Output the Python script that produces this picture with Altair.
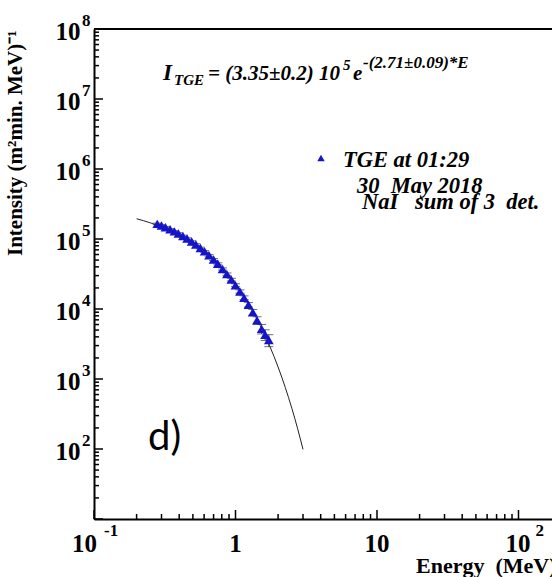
import altair as alt
import pandas as pd

# ---------------- data ----------------
energy = [0.28, 0.30, 0.32, 0.345, 0.37, 0.395, 0.425, 0.455, 0.49, 0.525,
          0.565, 0.605, 0.65, 0.70, 0.75, 0.81, 0.87, 0.935, 1.0, 1.075,
          1.15, 1.235, 1.325, 1.42, 1.53, 1.62, 1.72]
intensity = [164500, 156000, 147500, 137500, 128500, 120000, 110500, 101500, 92000, 83500,
             74500, 66500, 58500, 51000, 44200, 37300, 31500, 26300, 21900, 17800,
             14500, 11500, 9000, 6900, 5200, 4300, 3600]
err = [4100, 3900, 3700, 3400, 3200, 3000, 2800, 2600, 2400, 2200,
       2000, 1900, 1700, 1600, 1450, 1350, 1250, 1150, 1050, 950,
       900, 850, 850, 850, 800, 750, 700]

fit_energy = [0.2, 0.25, 0.3, 0.4, 0.5, 0.6, 0.7, 0.8, 0.9, 1.0, 1.1, 1.25, 1.5,
              1.75, 2.0, 2.25, 2.5, 2.75, 3.0]
fit_intensity = [194800, 170100, 148600, 113300, 86400, 65900, 50250, 38300, 29240,
                 22290, 17000, 11320, 5750, 2920, 1483, 753, 383, 194.3, 98.7]

x_major = [0.1, 1, 10, 100]
x_minor = [0.2, 0.3, 0.4, 0.5, 0.6, 0.7, 0.8, 0.9, 2, 3, 4, 5, 6, 7, 8, 9,
           20, 30, 40, 50, 60, 70, 80, 90]
y_major = [1e1, 1e2, 1e3, 1e4, 1e5, 1e6, 1e7, 1e8]
y_minor = [m * 10 ** k for k in range(1, 8) for m in range(2, 10)]

# tick labels: base + exponent
y_label_values = [1e2, 1e3, 1e4, 1e5, 1e6, 1e7, 1e8]
y_label_exps = ["2", "3", "4", "5", "6", "7", "8"]
x_label_values = [0.1, 1, 10, 100]
x_label_bases = ["10", "1", "10", "10"]
x_label_exps = ["-1", "", "", "2"]

# ---------------- layout ----------------
W, H = 458, 490
SERIF = "Liberation Serif"
BLUE = "#1414c8"
LABEL_SIZE = 25
EXP_SIZE = 17

xscale = alt.Scale(type="log", domain=[0.1, 172.5], nice=False)
yscale = alt.Scale(type="log", domain=[10, 1e8], nice=False)

xaxis = alt.Axis(
    values=x_major, labels=False,
    grid=False, ticks=False, tickSize=0,
    domainColor="black", domainWidth=2,
    title="Energy\u00a0\u00a0(MeV)", titleFont=SERIF, titleFontSize=22,
    titleFontWeight="bold", titleColor="black",
    titleX=462, titleY=53, titleAlign="right", titleBaseline="alphabetic", titleAngle=0,
)
yaxis = alt.Axis(
    values=y_label_values,
    labelExpr="'10'",
    grid=False, ticks=False, tickSize=0,
    domainColor="black", domainWidth=2,
    labelFont=SERIF, labelFontSize=LABEL_SIZE, labelFontWeight="bold", labelColor="black",
    labelPadding=14, labelOffset=2, labelOverlap=False,
    title="Intensity (m²min. MeV)⁻¹", titleFont=SERIF, titleFontSize=21,
    titleFontWeight="bold", titleColor="black",
    titleX=-73, titleY=1, titleAlign="right", titleBaseline="alphabetic", titleAngle=270,
)


def X(f):
    return alt.X(f, type="quantitative", scale=xscale, axis=xaxis)


def Y(f):
    return alt.Y(f, type="quantitative", scale=yscale, axis=yaxis)


pts = pd.DataFrame({"E": energy, "I": intensity, "err": err})
pts["lo"] = pts["I"] - pts["err"]
pts["hi"] = pts["I"] + pts["err"]
fit = pd.DataFrame({"E": fit_energy, "I": fit_intensity})

fit_line = alt.Chart(fit).mark_line(color="#222222", strokeWidth=1, interpolate="monotone").encode(
    x=X("E"), y=Y("I"))

err_rule = alt.Chart(pts).mark_rule(color="#333333", strokeWidth=1).encode(
    x=X("E"), y=Y("lo"), y2="hi")
cap_lo = alt.Chart(pts).mark_tick(orient="horizontal", size=9, thickness=1, color="#333333").encode(
    x=X("E"), y=Y("lo"))
cap_hi = alt.Chart(pts).mark_tick(orient="horizontal", size=9, thickness=1, color="#333333").encode(
    x=X("E"), y=Y("hi"))

points = alt.Chart(pts).mark_point(shape="triangle-up", filled=True, size=95,
                                   color=BLUE, opacity=1).encode(x=X("E"), y=Y("I"))

# inward axis ticks
xt_major = alt.Chart(pd.DataFrame({"v": x_major})).mark_rule(color="black", strokeWidth=1.5).encode(
    x=X("v"), y=alt.value(H), y2=alt.value(H - 9))
xt_minor = alt.Chart(pd.DataFrame({"v": x_minor})).mark_rule(color="black", strokeWidth=1.5).encode(
    x=X("v"), y=alt.value(H), y2=alt.value(H - 5))
yt_major = alt.Chart(pd.DataFrame({"v": y_major})).mark_rule(color="black", strokeWidth=1.5).encode(
    y=Y("v"), x=alt.value(0), x2=alt.value(9))
yt_minor = alt.Chart(pd.DataFrame({"v": y_minor})).mark_rule(color="black", strokeWidth=1.5).encode(
    y=Y("v"), x=alt.value(0), x2=alt.value(5))
top_frame = alt.Chart(pd.DataFrame({"v": [1e8]})).mark_rule(color="black", strokeWidth=2).encode(
    y=Y("v"), x=alt.value(0), x2=alt.value(W + 5))

# y-axis label exponents
y_exp = alt.Chart(pd.DataFrame({"v": y_label_values, "t": y_label_exps})).mark_text(
    font=SERIF, fontSize=EXP_SIZE, fontWeight="bold", color="black",
    align="left", baseline="alphabetic", dx=-12, dy=-3,
).encode(x=alt.value(0), y=Y("v"), text="t:N")

# x-axis labels (base "10"/"1" and exponent), one small layer per label
x_label_layout = [  # (base align, base dx, exponent dx)
    ("right", 3, 10),
    ("center", 0, 0),
    ("center", 0, 0),
    ("right", 12, 17),
]
x_label_layers = []
for v, base, ex, (al, bdx, edx) in zip(x_label_values, x_label_bases, x_label_exps, x_label_layout):
    df = pd.DataFrame({"v": [v], "b": [base], "e": [ex]})
    x_label_layers.append(alt.Chart(df).mark_text(
        font=SERIF, fontSize=LABEL_SIZE, fontWeight="bold", color="black",
        align=al, baseline="alphabetic", dx=bdx, dy=33,
    ).encode(x=X("v"), y=alt.value(H), text="b:N"))
    if ex:
        x_label_layers.append(alt.Chart(df).mark_text(
            font=SERIF, fontSize=EXP_SIZE, fontWeight="bold", color="black",
            align="left", baseline="alphabetic", dx=edx, dy=17,
        ).encode(x=X("v"), y=alt.value(H), text="e:N"))


def label(e, i, txt, size, dx=0, dy=0, style="italic", font=SERIF, weight="bold"):
    df = pd.DataFrame({"E": [e], "I": [i], "t": [txt]})
    return alt.Chart(df).mark_text(
        font=font, fontSize=size, fontWeight=weight, fontStyle=style, color="black",
        align="left", baseline="alphabetic", dx=dx, dy=dy,
    ).encode(x=X("E"), y=Y("I"), text="t:N")


FE, FI = 0.3073, 1.868e7  # formula anchor
formula = [
    label(FE, FI, "I", 23),
    label(FE, FI, "TGE", 15, dx=11, dy=5),
    label(FE, FI, "= (3.35±0.2) 10", 21, dx=45),
    label(FE, FI, "5", 15, dx=180, dy=-10),
    label(FE, FI, "e", 21, dx=190),
    label(FE, FI, "-(2.71±0.09)*E", 17, dx=200, dy=-12),
]

legend_marker = alt.Chart(pd.DataFrame({"E": [4.02], "I": [1.436e6]})).mark_point(
    shape="triangle-up", filled=True, size=55, color=BLUE, opacity=1).encode(x=X("E"), y=Y("I"))
legend_texts = [
    label(5.75, 1.068e6, "TGE at 01:29", 22.5),
    label(7.22, 4.54e5, "30\u00a0\u00a0May 2018", 22.5),
    label(7.83, 2.68e5, "NaI\u00a0\u00a0\u00a0sum of 3\u00a0\u00a0det.", 22.5),
]
panel = label(0.2408, 96.8, "d)", 40, style="normal", font="Lato", weight="normal")

chart = alt.layer(
    fit_line, err_rule, cap_lo, cap_hi, points,
    xt_major, xt_minor, yt_major, yt_minor, top_frame,
    y_exp, *x_label_layers,
    *formula, legend_marker, *legend_texts, panel,
).properties(
    width=W, height=H,
    padding={"left": 94, "top": 29, "right": 0, "bottom": 58},
    autosize=alt.AutoSizeParams(type="none"),
    background="white",
).configure_view(stroke=None)

chart.save("out.html", embed_options={"renderer": "svg", "actions": False})
